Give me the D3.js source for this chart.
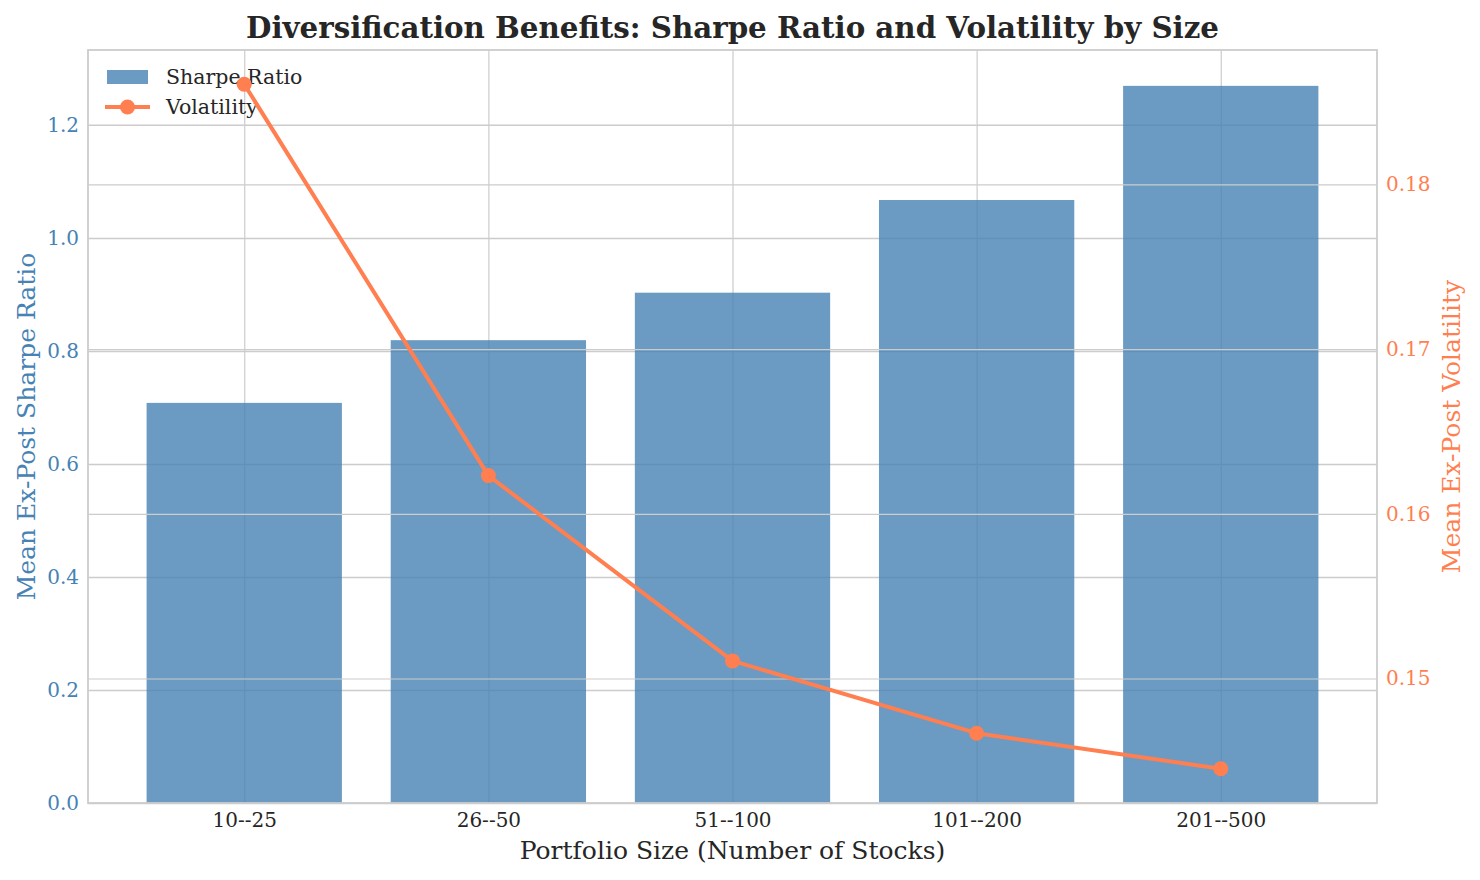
<!DOCTYPE html>
<html><head><meta charset="utf-8">
<script src="https://cdn.jsdelivr.net/npm/d3@7"></script>
<style>body{margin:0;background:#fff}svg{display:block}text{font-family:"DejaVu Serif",serif}</style>
</head><body>
<script>
const categories = ["10--25","26--50","51--100","101--200","201--500"];
const sharpe = [0.708, 0.819, 0.903, 1.067, 1.269];
const volatility = [0.18608, 0.16232, 0.15107, 0.14668, 0.14452];
const leftTicks = [0.0,0.2,0.4,0.6,0.8,1.0,1.2];
const rightTicks = [0.15,0.16,0.17,0.18];

const W=1480,H=880;
const m={l:88,r:1377,t:50,b:803};
const BLUE="#4682b4", CORAL="#ff7f50", GRID="#cccccc", TXT="#262626";
const svg=d3.select("body").append("svg").attr("width",W).attr("height",H);

const n=categories.length;
const x=d3.scaleLinear().domain([-0.64,n-1+0.64]).range([m.l,m.r]);
const yL=d3.scaleLinear().domain([0,d3.max(sharpe)*1.05]).range([m.b,m.t]);
const vmin=d3.min(volatility),vmax=d3.max(volatility),vr=vmax-vmin;
const yR=d3.scaleLinear().domain([vmin-0.05*vr,vmax+0.05*vr]).range([m.b,m.t]);

// left grid
const g1=svg.append("g");
g1.append("g").attr("transform",`translate(0,${m.b})`)
  .call(d3.axisBottom(x).tickValues(d3.range(n)).tickSize(-(m.b-m.t)).tickFormat(""))
  .call(g=>{g.select(".domain").remove();g.selectAll("line").attr("stroke",GRID).attr("stroke-width",1.2);});
g1.append("g").attr("transform",`translate(${m.l},0)`)
  .call(d3.axisLeft(yL).tickValues(leftTicks).tickSize(-(m.r-m.l)).tickFormat(""))
  .call(g=>{g.select(".domain").remove();g.selectAll("line").attr("stroke",GRID).attr("stroke-width",1.5);});

// bars
const bw=0.8;
svg.append("g").selectAll("rect").data(sharpe).join("rect")
  .attr("x",(d,i)=>x(i-bw/2)).attr("width",x(bw)-x(0))
  .attr("y",d=>yL(d)).attr("height",d=>yL(0)-yL(d))
  .attr("fill",BLUE).attr("fill-opacity",0.8);

// legend (on left axes)
const lg=svg.append("g");
lg.append("rect").attr("x",107).attr("y",70).attr("width",41).attr("height",14).attr("fill",BLUE).attr("fill-opacity",0.8);
lg.append("line").attr("x1",105).attr("x2",150).attr("y1",107).attr("y2",107).attr("stroke",CORAL).attr("stroke-width",4);
lg.append("circle").attr("cx",127.5).attr("cy",107).attr("r",7.5).attr("fill",CORAL);
lg.append("text").attr("x",166).attr("y",84).attr("font-size",20.5).attr("fill",TXT).text("Sharpe Ratio");
lg.append("text").attr("x",166).attr("y",113.5).attr("font-size",20.5).attr("fill",TXT).text("Volatility");

// twin grid
svg.append("g").attr("transform",`translate(${m.l},0)`)
  .call(d3.axisLeft(yR).tickValues(rightTicks).tickSize(-(m.r-m.l)).tickFormat(""))
  .call(g=>{g.select(".domain").remove();g.selectAll("line").attr("stroke",GRID).attr("stroke-width",1.2);});

// line
svg.append("path").datum(volatility)
  .attr("d",d3.line().x((d,i)=>x(i)).y(d=>yR(d)))
  .attr("fill","none").attr("stroke",CORAL).attr("stroke-width",4).attr("stroke-linejoin","round");
svg.append("g").selectAll("circle").data(volatility).join("circle")
  .attr("cx",(d,i)=>x(i)).attr("cy",d=>yR(d)).attr("r",7.5).attr("fill",CORAL);

// spines
svg.append("rect").attr("x",m.l).attr("y",m.t).attr("width",m.r-m.l).attr("height",m.b-m.t)
  .attr("fill","none").attr("stroke",GRID).attr("stroke-width",1.8);

// tick labels
const fs=20;
svg.append("g").attr("transform",`translate(${m.l},0)`)
  .call(d3.axisLeft(yL).tickValues(leftTicks).tickSize(0).tickPadding(9).tickFormat(d3.format(".1f")))
  .call(g=>{g.select(".domain").remove();g.selectAll("text").attr("fill",BLUE).attr("font-size",fs).attr("font-family","DejaVu Serif");});
svg.append("g").attr("transform",`translate(${m.r},0)`)
  .call(d3.axisRight(yR).tickValues(rightTicks).tickSize(0).tickPadding(9).tickFormat(d3.format(".2f")))
  .call(g=>{g.select(".domain").remove();g.selectAll("text").attr("fill",CORAL).attr("font-size",fs).attr("font-family","DejaVu Serif");});
svg.append("g").attr("transform",`translate(0,${m.b})`)
  .call(d3.axisBottom(x).tickValues(d3.range(n)).tickSize(0).tickPadding(10).tickFormat(i=>categories[i]))
  .call(g=>{g.select(".domain").remove();g.selectAll("text").attr("fill",TXT).attr("font-size",fs).attr("font-family","DejaVu Serif");});

// labels
svg.append("text").attr("x",(m.l+m.r)/2).attr("y",38).attr("text-anchor","middle")
  .attr("font-size",29.3).attr("font-weight","bold").attr("fill",TXT)
  .text("Diversification Benefits: Sharpe Ratio and Volatility by Size");
svg.append("text").attr("x",(m.l+m.r)/2).attr("y",859).attr("text-anchor","middle")
  .attr("font-size",25).attr("fill",TXT).text("Portfolio Size (Number of Stocks)");
svg.append("text").attr("transform",`translate(35,${(m.t+m.b)/2}) rotate(-90)`).attr("text-anchor","middle")
  .attr("font-size",25).attr("fill",BLUE).text("Mean Ex-Post Sharpe Ratio");
svg.append("text").attr("transform",`translate(1460,${(m.t+m.b)/2}) rotate(-90)`).attr("text-anchor","middle")
  .attr("font-size",25).attr("fill",CORAL).text("Mean Ex-Post Volatility");
</script>
</body></html>
